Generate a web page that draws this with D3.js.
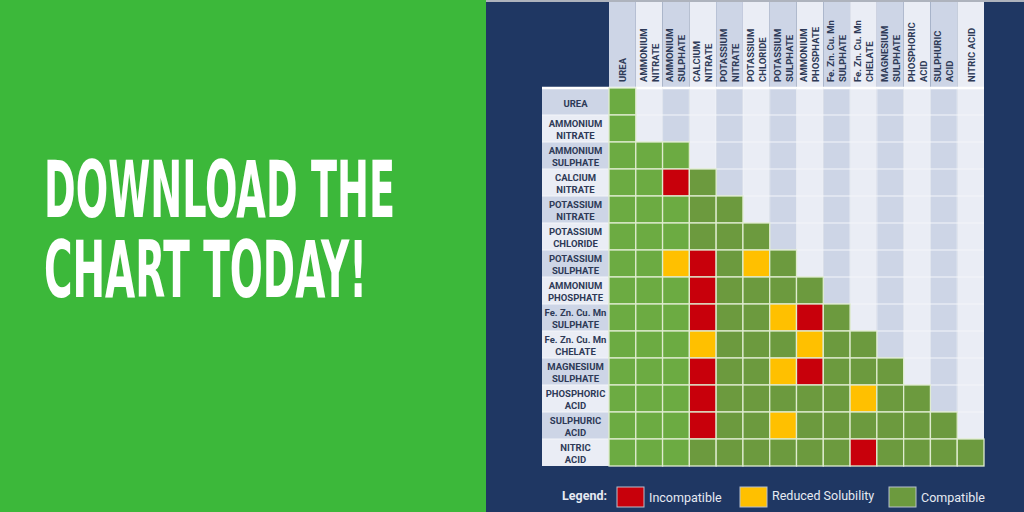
<!DOCTYPE html>
<html>
<head>
<meta charset="utf-8">
<script src="https://cdn.jsdelivr.net/npm/d3@7"></script>
<style>
html,body{margin:0;padding:0;background:#3cb83a;}
svg{display:block;}
</style>
</head>
<body>
<svg id="chart" width="1024" height="512"></svg>
<script>
// ---- data ----
const headline = ["DOWNLOAD THE", "CHART TODAY!"];
const colLabels = [
  ["UREA"], ["AMMONIUM","NITRATE"], ["AMMONIUM","SULPHATE"], ["CALCIUM","NITRATE"],
  ["POTASSIUM","NITRATE"], ["POTASSIUM","CHLORIDE"], ["POTASSIUM","SULPHATE"],
  ["AMMONIUM","PHOSPHATE"], ["Fe. Zn. Cu. Mn","SULPHATE"], ["Fe. Zn. Cu. Mn","CHELATE"],
  ["MAGNESIUM","SULPHATE"], ["PHOSPHORIC","ACID"], ["SULPHURIC","ACID"], ["NITRIC ACID"]
];
const rowLabels = [
  ["UREA"], ["AMMONIUM","NITRATE"], ["AMMONIUM","SULPHATE"], ["CALCIUM","NITRATE"],
  ["POTASSIUM","NITRATE"], ["POTASSIUM","CHLORIDE"], ["POTASSIUM","SULPHATE"],
  ["AMMONIUM","PHOSPHATE"], ["Fe. Zn. Cu. Mn","SULPHATE"], ["Fe. Zn. Cu. Mn","CHELATE"],
  ["MAGNESIUM","SULPHATE"], ["PHOSPHORIC","ACID"], ["SULPHURIC","ACID"], ["NITRIC","ACID"]
];
// C = compatible, R = reduced solubility, I = incompatible (one string per row, column by column)
const compatibility = [
  "C",
  "C",
  "CCC",
  "CCIC",
  "CCCCC",
  "CCCCCC",
  "CCRICRC",
  "CCCICCCC",
  "CCCICCRIC",
  "CCCRCCCRCC",
  "CCCICCRICCC",
  "CCCICCCCCRCC",
  "CCCICCRCCCCCC",
  "CCCCCCCCCICCCC"
];
const legendKeys = ["I", "R", "C"];
const legendNames = ["Incompatible", "Reduced Solubility", "Compatible"];

// ---- styles ----
const statusColor = {I: "#c8000b", R: "#ffc000", C: "#6c9a3e"};
const lightGreen = "#6cab42";
const stripeA = "#cdd5e6", stripeB = "#eaedf5";
const textDark = "#2e3a57";
const labelFont = "Roboto, 'DejaVu Sans', sans-serif";

const svg = d3.select("#chart");

// left panel
svg.append("rect").attr("x",0).attr("y",0).attr("width",487).attr("height",512).attr("fill","#3cb83a");
const hl = svg.append("g");
hl.selectAll("text").data(headline).join("text")
  .attr("x", 44)
  .attr("y", (d,i) => 217 + i*80)
  .attr("textLength", (d,i) => i === 0 ? 351 : 323)
  .attr("lengthAdjust", "spacingAndGlyphs")
  .attr("font-family", "'Liberation Sans Narrow', 'DejaVu Sans Condensed', 'Liberation Sans', sans-serif")
  .attr("font-weight", "bold")
  .attr("font-size", 78)
  .attr("fill", "#ffffff")
  .text(d => d);

// right panel
svg.append("rect").attr("x",486).attr("y",0).attr("width",538).attr("height",512).attr("fill","#1f3763");
svg.append("rect").attr("x",486).attr("y",0).attr("width",538).attr("height",2).attr("fill","#aeb3bd");

const n = colLabels.length;
const x = d3.scaleBand().domain(d3.range(n)).range([609, 984]);
const y = d3.scaleBand().domain(d3.range(n)).range([88, 466]);
const headerTop = 2, labelLeft = 542;

// column stripes (header + grid)
svg.append("g").selectAll("rect").data(d3.range(n)).join("rect")
  .attr("x", d => x(d)).attr("y", headerTop)
  .attr("width", x.bandwidth()).attr("height", 466 - headerTop)
  .attr("fill", d => d % 2 === 0 ? stripeA : stripeB);

// row label stripes
svg.append("g").selectAll("rect").data(d3.range(n)).join("rect")
  .attr("x", labelLeft).attr("y", d => y(d))
  .attr("width", x(0) - labelLeft).attr("height", y.bandwidth())
  .attr("fill", d => d % 2 === 0 ? stripeA : stripeB);

// grid lines on empty area
const gl = svg.append("g").attr("stroke", "#f4f6fa").attr("stroke-width", 1.2);
gl.selectAll("line.h").data(d3.range(n)).join("line").attr("class","h")
  .attr("x1", labelLeft).attr("x2", 984)
  .attr("y1", d => y(d)).attr("y2", d => y(d));
gl.append("line").attr("x1", labelLeft).attr("x2", 984).attr("y1", 88).attr("y2", 88).attr("stroke-width", 2.5).attr("stroke","#ffffff");
gl.selectAll("line.v").data(d3.range(1, n)).join("line").attr("class","v")
  .attr("x1", d => x(d)).attr("x2", d => x(d))
  .attr("y1", 88).attr("y2", 466).attr("stroke-width", 0.8);

// cells
const cells = [];
compatibility.forEach((row, i) => {
  row.split("").forEach((s, j) => cells.push({i, j, s}));
});
svg.append("g").selectAll("rect").data(cells).join("rect")
  .attr("x", d => x(d.j)).attr("y", d => y(d.i))
  .attr("width", x.bandwidth()).attr("height", y.bandwidth())
  .attr("fill", d => d.s === "C" && d.j < 3 ? lightGreen : statusColor[d.s])
  .attr("stroke", "#dfeccf").attr("stroke-width", 1.3);

// column header labels (one text per label, lines as tspans)
const ch = svg.append("g").selectAll("text").data(colLabels).join("text")
  .attr("transform", (d,i) => `translate(${x(i) + x.bandwidth()/2},82) rotate(-90)`)
  .attr("font-family", labelFont).attr("font-weight", "bold")
  .attr("font-size", 9.5).attr("fill", textDark);
ch.selectAll("tspan").data(d => d.map((t,k) => ({t, k, len: d.length}))).join("tspan")
  .attr("x", 0)
  .attr("y", d => d.len === 1 ? 4 : (d.k === 0 ? -2.5 : 9.5))
  .text(d => d.t);

// row labels
const rl = svg.append("g").selectAll("text").data(rowLabels).join("text")
  .attr("transform", (d,i) => `translate(${(labelLeft + x(0))/2},${y(i) + y.bandwidth()/2})`)
  .attr("text-anchor", "middle")
  .attr("font-family", labelFont).attr("font-weight", "bold")
  .attr("font-size", 9.5).attr("fill", textDark);
rl.selectAll("tspan").data(d => d.map((t,k) => ({t, k, len: d.length}))).join("tspan")
  .attr("x", 0)
  .attr("y", d => d.len === 1 ? 5 : (d.k === 0 ? -1.8 : 10.6))
  .text(d => d.t);

// legend
const lg = svg.append("g");
lg.append("text").attr("x", 562).attr("y", 500)
  .attr("font-family", labelFont).attr("font-weight", "bold").attr("font-size", 12.5)
  .attr("fill", "#e6eaf2").text("Legend:");
const swX = [617, 740, 889];
const lgItems = lg.selectAll("g.item").data(legendKeys).join("g").attr("class","item");
lgItems.append("rect")
  .attr("x", (d,i) => swX[i]).attr("y", 487)
  .attr("width", 27).attr("height", 20)
  .attr("fill", d => statusColor[d])
  .attr("stroke", "#b8c0cd").attr("stroke-width", 1);
lgItems.append("text")
  .attr("x", (d,i) => swX[i] + 32).attr("y", (d,i) => i === 1 ? 500 : 502)
  .attr("font-family", labelFont).attr("font-size", 12.5)
  .attr("fill", "#e6eaf2")
  .text((d,i) => legendNames[i]);
</script>
</body>
</html>
